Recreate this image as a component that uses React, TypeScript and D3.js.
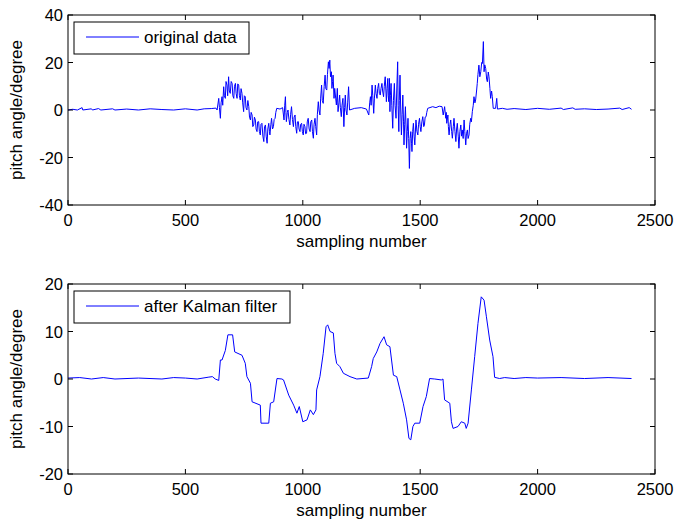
import * as d3 from 'd3'

// sampled readings of the two curves: [sampling number, pitch angle]
const originalData: [number, number][] = [
  [0, 0], [20, 0.3], [40, 0], [60, 1], [63, 0], [100, 0.5], [104, 0], [130, 0.6], [140, 0], [190, 0.5],
  [200, 0], [250, 0.4], [300, 0], [350, 0.5], [400, 0.2], [450, 0], [500, 0.5], [550, 0], [580, 0.5],
  [610, 0.6], [630, 0.8], [635, 0],
  [642, 4.9], [645, 1], [649, -3.5], [652, 3], [656, 5.6], [659, 2], [663, 9.8], [666, 6], [670, 4.9],
  [673, 12], [677, 10.5], [680, 6], [684, 14], [687, 8], [691, 7], [695, 12], [699, 11.2], [702, 6],
  [706, 4.9], [709, 10], [713, 11.2], [716, 7], [720, 4.9], [723, 11], [727, 10.5], [730, 6], [734, 4.2],
  [737, 9], [741, 7], [744, 3], [748, -0.7], [751, 6], [755, 5.6], [758, 1], [762, 0], [766, 4], [770, 1.4],
  [773, -3], [777, -4.2], [780, -1], [784, -2.1], [787, -7], [791, -6.3], [794, -3], [798, -4.2], [801, -8],
  [805, -9.1], [808, -5], [812, -4.9], [815, -9], [819, -10.5], [822, -6], [826, -5.6], [830, -11],
  [834, -13.3], [837, -7], [841, -6.3], [844, -11], [848, -14], [851, -8], [855, -5.6], [858, -9],
  [860, -10.5], [864, -6], [867, -3.5], [871, -8], [875, -7], [878, -4], [882, -3.5], [885, -1], [889, 0.7],
  [903, 0.4], [914, 1], [920, -4.2], [923, 2], [926, 5.6], [928, -1], [930, -4.9], [934, -1], [937, 0],
  [941, -4], [945, -6.3], [948, -2], [952, 1.4], [956, -4], [960, -7], [963, -3], [967, -2.1], [970, -7],
  [974, -9.8], [977, -5], [981, -4.9], [984, -8], [988, -9.1], [991, -6], [995, -5.6], [998, -9],
  [1002, -10.5], [1005, -6], [1009, -7], [1012, -10], [1016, -9.8], [1019, -5], [1023, -3.5], [1027, -8],
  [1031, -9.1], [1034, -5], [1038, -4.2], [1041, -9], [1045, -11.9], [1048, -6], [1052, -3.5], [1055, -7],
  [1059, -10.5], [1062, -2], [1066, 3.5], [1069, 0], [1073, -2.1], [1076, 5], [1080, 10.5], [1083, 4],
  [1087, 2.8], [1091, 10], [1095, 14.7], [1098, 9], [1102, 8.4], [1105, 15], [1109, 20.3],
  [1112, 17.5], [1115, 21], [1118, 14], [1122, 16.1], [1124, 9.1], [1127, 12], [1129, 14.7], [1133, 4.9],
  [1136, 9.1], [1140, 5], [1143, 2.1], [1147, 9.1], [1150, -0.7], [1154, 3], [1157, 6.3], [1160, 1],
  [1164, -2.8], [1167, 2], [1171, 4.9], [1175, -7], [1178, 1], [1181, 6.3], [1184, 0], [1188, -2.1],
  [1191, 3], [1195, 9.8], [1199, 0], [1221, 0.7], [1249, 1], [1271, 0.4],
  [1281, -2.1], [1285, 3], [1288, 5.6], [1291, 2], [1295, 10.5], [1298, 6], [1302, -1.4], [1305, 5],
  [1309, 10.5], [1312, 7], [1316, 4.9], [1319, 9], [1323, 11.2], [1326, 7], [1330, 6.3], [1333, 9],
  [1337, 11.2], [1340, 8], [1344, 5.6], [1347, 10], [1351, 14], [1354, 8], [1356, 3.5], [1359, 9],
  [1362, 13.3], [1364, 6], [1366, 3.5], [1369, 13.3], [1371, -0.7], [1373, 6], [1376, 11.2], [1379, 2],
  [1383, -7.7], [1386, 4], [1390, 11.2], [1393, 2], [1397, -3.5], [1400, 8], [1404, 20.3], [1406, 2],
  [1409, -9.1], [1411, 4], [1414, 14.7], [1417, 0], [1420, -10.5], [1423, -2], [1426, 6.3], [1429, -5],
  [1431, -14.7], [1434, -6], [1437, 1.4], [1440, -8], [1442, -16.1], [1445, -9], [1448, -3.5], [1451, -12],
  [1454, -24.6], [1457, -12], [1460, -9.1], [1463, -14], [1465, -17.5], [1468, -9], [1471, -5.6],
  [1474, -11], [1477, -14.7], [1480, -8], [1482, -4.2], [1486, -9], [1490, -10.5], [1493, -6],
  [1497, -3.5], [1500, -7], [1503, -9.1], [1507, -5], [1511, -2.8], [1515, -7], [1518, -6.3], [1521, -3],
  [1525, -2.8], [1528, -1], [1532, 0.7], [1553, 1.4], [1567, 1], [1581, 1.6],
  [1593, 1.4], [1598, -2.1], [1604, 1.4], [1609, -3.5], [1611, -1], [1613, -5.6], [1618, -2.1],
  [1620, -7], [1623, -10.5], [1627, -6], [1630, -4.2], [1634, -9], [1637, -11.9], [1641, -7],
  [1644, -3.5], [1648, -9], [1652, -13.3], [1655, -8], [1658, -5.6], [1662, -11], [1665, -16.1],
  [1669, -9], [1673, -6.3], [1676, -11], [1679, -8.4], [1683, -12], [1687, -4.2], [1690, -9],
  [1694, -14.7], [1697, -10], [1701, -8.4], [1704, -12], [1708, -10.5], [1711, -6], [1715, -3.5],
  [1718, -5], [1722, -0.7], [1726, 2], [1729, 5.6], [1733, 3], [1736, 4.2], [1740, 8], [1743, 11.2],
  [1746, 15], [1750, 18.9], [1754, 14], [1758, 16.1], [1762, 20], [1765, 19.6], [1769, 28.8],
  [1772, 16.1], [1775, 19], [1779, 17.5], [1783, 13], [1786, 11.9], [1790, 16], [1793, 14], [1797, 9],
  [1800, 4.9], [1804, 8], [1807, 5.6], [1811, 0.7],
  [1821, 0.7], [1826, 4.9], [1829, 0.4], [1850, 0.7], [1870, 0.3], [1900, 0.6], [1950, 0.2], [2000, 0.7],
  [2050, 0.3], [2100, 0.8], [2110, 0.2], [2150, 0.9], [2160, 0.3], [2200, 0.5], [2250, 0.2], [2300, 0.4],
  [2350, 0.8], [2360, 0.2], [2390, 1], [2400, 0.3],
]

const kalmanData: [number, number][] = [
  [0, 0.2], [50, 0.3], [100, 0], [150, 0.3], [200, 0], [300, 0.2], [400, 0], [450, 0.3], [500, 0.2],
  [550, 0], [600, 0.4], [615, 0.5], [627, 0], [642, -0.3], [649, 4], [656, 4], [670, 6], [681, 9.3],
  [701, 9.3], [710, 5.7], [741, 5], [755, 3.3], [762, 0.5], [777, -0.9], [784, -4.8], [819, -5.5],
  [822, -9.3], [855, -9.3], [862, -5.1], [876, -4.8], [890, 0.1], [911, 0], [918, -0.2], [940, -3.4],
  [961, -5.5], [975, -7.2], [985, -5.8], [1000, -9], [1018, -8.6], [1032, -6.5], [1045, -7.5],
  [1056, -6.5], [1059, -2.3], [1073, 0.5], [1087, 5.4], [1099, 11], [1106, 11.4], [1116, 10],
  [1130, 9.7], [1137, 5.4], [1144, 3.3], [1158, 2.6], [1173, 1.2], [1201, 0.5], [1230, 0], [1279, 0.2],
  [1293, 2.6], [1300, 4.3], [1315, 5.7], [1329, 7.5], [1346, 8.9], [1357, 7.2], [1371, 6.8],
  [1386, 0.8], [1400, 0.5], [1414, -2.3], [1428, -5.1], [1442, -8.6], [1452, -12.5], [1460, -12.8],
  [1469, -10], [1477, -9.3], [1498, -9.3], [1512, -5.8], [1526, -3.7], [1540, 0.1], [1562, 0],
  [1590, -0.2], [1597, 0], [1604, -4.4], [1626, -5.1], [1633, -9], [1640, -10.4], [1661, -10],
  [1675, -9], [1690, -9.3], [1696, -10.4], [1704, -9.3], [1718, -2.3], [1732, 4.7], [1746, 11.7],
  [1760, 17.3], [1772, 16.6], [1782, 13.1], [1796, 8.2], [1810, 4.7], [1817, 0.35], [1838, 0.1],
  [1860, 0.3], [1900, 0.1], [1950, 0.3], [2000, 0.2], [2100, 0.3], [2200, 0.1], [2300, 0.3], [2400, 0.1],
]

const xTicks = [0, 500, 1000, 1500, 2000, 2500]
const topYTicks = [-40, -20, 0, 20, 40]
const bottomYTicks = [-20, -10, 0, 10, 20]

const FONT = 'Liberation Sans, Arial, sans-serif'

function Panel({ data, top, yDomain, yTicks, legend, legendW }: any) {
  const left = 68
  const right = 655
  const h = 190
  const x = d3.scaleLinear().domain([0, 2500]).range([left, right])
  const y = d3.scaleLinear().domain(yDomain).range([top + h, top])
  const line = d3.line<[number, number]>().x(d => x(d[0])).y(d => y(d[1]))
  const tl = 5
  const lx = left + 6
  const ly = top + 7

  return (
    <g>
      <path d={line(data) || ''} fill='none' stroke='#0000ff' strokeWidth={1} />
      <rect x={left} y={top} width={right - left} height={h} fill='none' stroke='#000' strokeWidth={1} />
      {xTicks.map(t => (
        <g key={'x' + t}>
          <line x1={x(t)} x2={x(t)} y1={top + h} y2={top + h - tl} stroke='#000' />
          <line x1={x(t)} x2={x(t)} y1={top} y2={top + tl} stroke='#000' />
          <text x={x(t)} y={top + h + 21} textAnchor='middle' fontSize={16.5} fontFamily={FONT}>{t}</text>
        </g>
      ))}
      {yTicks.map(t => (
        <g key={'y' + t}>
          <line x1={left} x2={left + tl} y1={y(t)} y2={y(t)} stroke='#000' />
          <line x1={right} x2={right - tl} y1={y(t)} y2={y(t)} stroke='#000' />
          <text x={left - 5} y={y(t) + 6} textAnchor='end' fontSize={16.5} fontFamily={FONT}>{t}</text>
        </g>
      ))}
      <text transform={`translate(22,${top + h / 2}) rotate(-90)`} textAnchor='middle' fontSize={17} fontFamily={FONT}>
        pitch angle/degree
      </text>
      <text x={(left + right) / 2} y={top + h + 42} textAnchor='middle' fontSize={17} fontFamily={FONT}>
        sampling number
      </text>
      <rect x={lx} y={ly} width={legendW} height={32} fill='#fff' stroke='#000' strokeWidth={1} />
      <line x1={lx + 12} x2={lx + 65} y1={ly + 15} y2={ly + 15} stroke='#0000ff' strokeWidth={1} />
      <text x={lx + 70} y={ly + 21} fontSize={17} fontFamily={FONT}>{legend}</text>
    </g>
  )
}

export default function App() {
  return (
    <svg width={674} height={526} style={{ position: 'absolute', left: 0, top: 0, background: '#fff' }}>
      <Panel data={originalData} top={15} yDomain={[-40, 40]} yTicks={topYTicks} legend='original data' legendW={175} />
      <Panel data={kalmanData} top={284} yDomain={[-20, 20]} yTicks={bottomYTicks} legend='after Kalman filter' legendW={216} />
    </svg>
  )
}
